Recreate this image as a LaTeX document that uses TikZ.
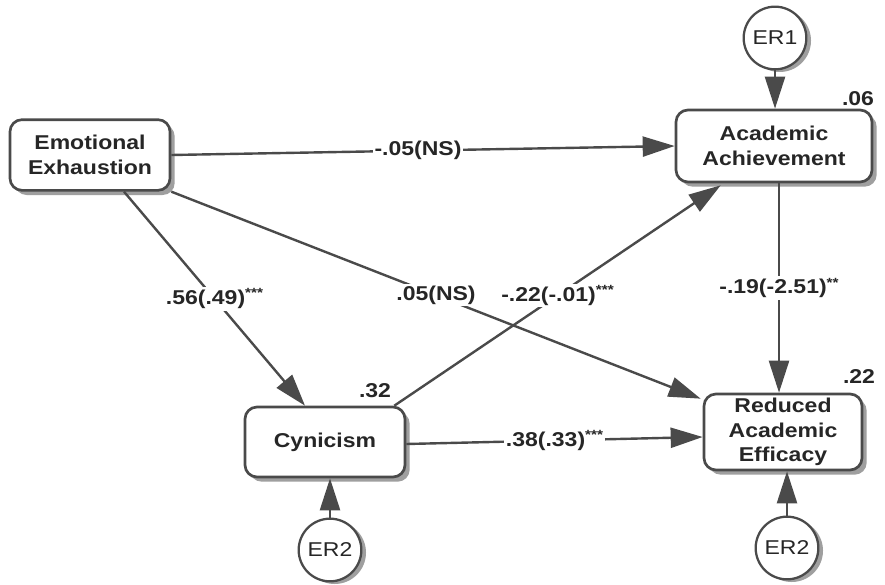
\documentclass[tikz,border=0pt]{standalone}
\usepackage{fontspec}
\setmainfont{Liberation Sans}[FakeStretch=1.15]
\usetikzlibrary{arrows.meta,shadows,calc}
\definecolor{ln}{HTML}{4A4A4A}
\definecolor{tx}{HTML}{262626}
\newcommand{\stars}[1]{\raisebox{.33em}{\fontsize{10}{10}\selectfont #1}}
\begin{document}
\begin{tikzpicture}[x=0.75pt,y=-0.75pt,
  box/.style={draw=ln, line width=2pt, rounded corners=9pt, fill=white, align=center,
    inner sep=2pt, font=\fontsize{15}{18.5}\selectfont\bfseries, text=tx,
    drop shadow={shadow xshift=3.5pt, shadow yshift=-3.5pt, fill=gray!75, opacity=1}},
  err/.style={draw=ln, line width=1.7pt, circle, minimum size=47pt, inner sep=0pt, fill=white,
    font=\fontsize{15}{18}\selectfont, text=tx,
    drop shadow={shadow xshift=3.5pt, shadow yshift=-2pt, fill=gray!75, opacity=1}},
  conn/.style={draw=ln, line width=1.8pt, -{Triangle[length=24pt,width=15pt]}},
  lab/.style={fill=white, inner sep=1.5pt, text=tx, font=\fontsize{15}{18}\selectfont\bfseries},
  r2/.style={text=tx, inner sep=0pt, font=\fontsize{15}{18}\selectfont\bfseries}
]
\fill[white] (0,0) rectangle (885,585);
\useasboundingbox (0,0) rectangle (885,585);

\node[box, minimum width=120pt, minimum height=53pt] (ee) at (90,155) {Emotional\\Exhaustion};
\node[box, minimum width=147pt, minimum height=54pt] (aa) at (774,146) {Academic\\Achievement};
\node[box, minimum width=118.5pt, minimum height=57pt] (rae) at (783,432) {Reduced\\Academic\\Efficacy};
\node[box, minimum width=120pt, minimum height=52.5pt] (cyn) at (325,442) {Cynicism};

\node[err] (er1) at (775,38) {ER1};
\node[err] (er2a) at (330,550) {ER2};
\node[err] (er2b) at (787,548) {ER2};

\node[r2] (r06) at (858,99) {.06};
\node[r2] (r22) at (859,377) {.22};
\node[r2] (r32) at (375,391) {.32};

\draw[conn] (er1.south) -- (er1.south |- aa.north);
\draw[conn] (er2a.north) -- (er2a.north |- cyn.south);
\draw[conn] (er2b.north) -- (er2b.north |- rae.south);

\draw[conn] (ee.east) -- node[lab, pos=0.49] {-.05(NS)} (aa.west);
\draw[conn] ($(ee.south)+(34,0)$) -- node[lab, pos=0.5] {.56(.49)\stars{***}} ($(cyn.north)+(-20,0)$);
\draw[conn] ($(ee.south east)+(0,0)$) -- node[lab, pos=0.5] {.05(NS)} ($(rae.north west)+(-2,6)$);
\draw[conn] ($(cyn.north east)+(-12,0)$) -- node[lab, pos=0.5] {-.22(-.01)\stars{***}} ($(aa.south west)+(46,2)$);
\draw[conn] ($(aa.south)+(5,0)$) -- node[lab, pos=0.5] {-.19(-2.51)\stars{**}} ($(rae.north)+(-4,0)$);
\draw[conn] ($(cyn.east)+(0,2)$) -- node[lab, pos=0.5] {.38(.33)\stars{***}} ($(rae.west)+(0,5)$);
\end{tikzpicture}
\end{document}
